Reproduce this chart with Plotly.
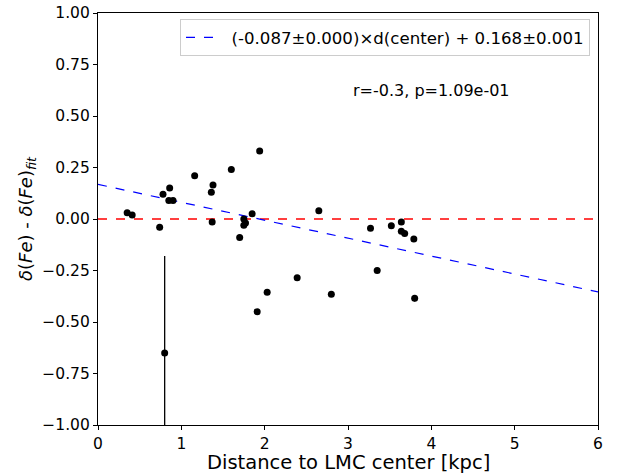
import plotly.graph_objects as go

# Data
distance = [0.35, 0.41, 0.74, 0.78, 0.86, 0.85, 0.90, 0.80, 1.16, 1.36, 1.38, 1.37, 1.60, 1.94,
            1.85, 1.75, 1.77, 1.75, 1.70, 1.91, 2.03, 2.39, 2.65, 2.80, 3.27, 3.35, 3.52,
            3.64, 3.64, 3.68, 3.79, 3.80]
resid = [0.03, 0.02, -0.04, 0.12, 0.15, 0.09, 0.09, -0.65, 0.21, 0.13, 0.165, -0.015, 0.24, 0.33,
         0.025, 0.0, -0.02, -0.03, -0.09, -0.45, -0.355, -0.285, 0.04, -0.365, -0.045, -0.25, -0.033,
         -0.015, -0.06, -0.07, -0.097, -0.385]
resid_err = [0.0, 0.0, 0.015, 0.0, 0.0, 0.0, 0.0, 0.47, 0.0, 0.0, 0.0, 0.0, 0.0, 0.0,
             0.0, 0.0, 0.0, 0.0, 0.0, 0.0, 0.0, 0.0, 0.0, 0.0, 0.0, 0.0, 0.0,
             0.0, 0.0, 0.0, 0.0, 0.015]

slope = -0.087
intercept = 0.168
fit_x = [0, 6]
fit_y = [intercept + slope * v for v in fit_x]
zero_x = [0, 6]
zero_y = [0, 0]

font = "DejaVu Sans"

fig = go.Figure()
fig.add_trace(go.Scatter(x=zero_x, y=zero_y, mode="lines",
                         line=dict(color="red", dash="dash", width=1.3),
                         showlegend=False, hoverinfo="skip"))
fig.add_trace(go.Scatter(x=fit_x, y=fit_y, mode="lines",
                         line=dict(color="blue", dash="dash", width=1.2),
                         name="\u00a0\u00a0(-0.087±0.000)×d(center) + 0.168±0.001"))
fig.add_trace(go.Scatter(x=distance, y=resid, mode="markers",
                         marker=dict(color="black", size=7),
                         error_y=dict(type="data", array=resid_err, visible=True,
                                      color="black", thickness=1.3, width=0),
                         showlegend=False))

fig.add_annotation(x=4.0, y=0.625, xref="x", yref="y", text="r=-0.3, p=1.09e-01",
                   showarrow=False, font=dict(family=font, size=16, color="black"))

# x-axis title placed as an annotation for exact position below the tick labels
fig.add_annotation(x=0.5, y=0, xref="paper", yref="paper", yanchor="middle",
                   yshift=-37, text="Distance to LMC center [kpc]", showarrow=False,
                   font=dict(family=font, size=19.5, color="black"))

axis_common = dict(showline=True, linecolor="black", linewidth=1.2, mirror=True,
                   ticks="outside", ticklen=4, tickcolor="black", showgrid=False,
                   zeroline=False, automargin=False, ticklabeloverflow="allow",
                   tickfont=dict(family=font, size=15.5, color="black"))

fig.update_layout(
    width=620, height=473,
    margin=dict(l=98, r=22, t=13, b=48),
    paper_bgcolor="white", plot_bgcolor="white",
    font=dict(family=font, color="black"),
    legend=dict(x=0.984, y=0.985, xanchor="right", yanchor="top",
                bgcolor="rgba(255,255,255,0.8)", bordercolor="#cccccc", borderwidth=1,
                itemwidth=30,
                font=dict(family=font, size=16.6, color="black")),
    xaxis=dict(range=[0, 6], tickvals=[0, 1, 2, 3, 4, 5, 6], **axis_common),
    yaxis=dict(range=[-1, 1], tickvals=[-1, -0.75, -0.5, -0.25, 0, 0.25, 0.5, 0.75, 1],
               tickformat=".2f",
               title=dict(text="<i>δ</i>(<i>Fe</i>) - <i>δ</i>(<i>Fe</i>)<sub><i>fit</i></sub>",
                          font=dict(family=font, size=18), standoff=4),
               **axis_common),
)

# Remove the default page body margin so the 620x473 figure fills the window exactly.
fig.write_html("out.html", config={"displayModeBar": False},
               post_script="document.body.style.margin='0';")
